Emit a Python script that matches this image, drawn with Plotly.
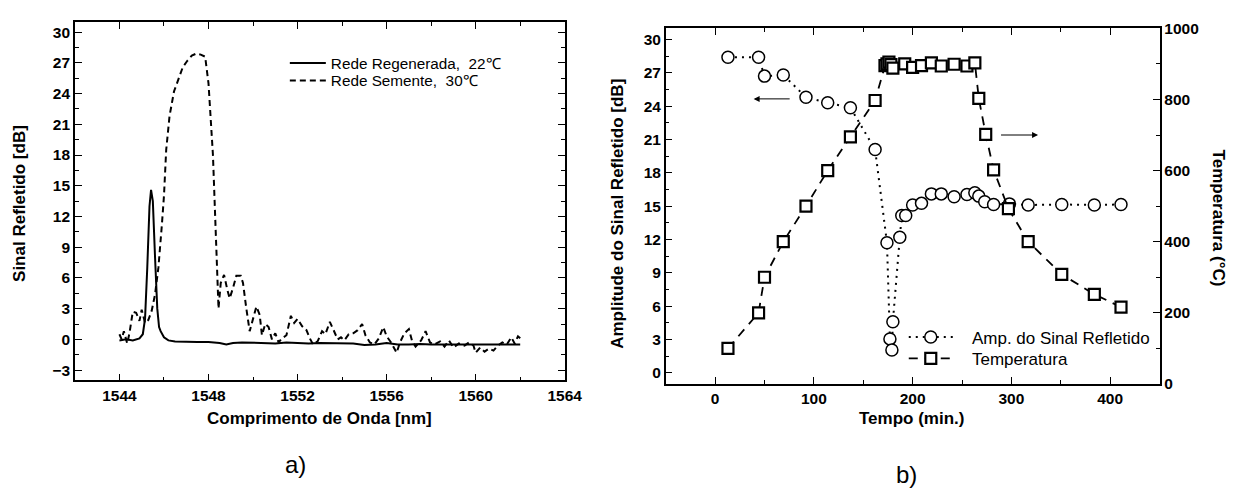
import plotly.graph_objects as go

# ---------------- data: panel a) ----------------
wl_regen = [1544.0, 1544.3, 1544.6, 1544.9, 1545.05, 1545.15, 1545.25, 1545.35, 1545.42, 1545.5,
            1545.6, 1545.7, 1545.78, 1545.85, 1546.0, 1546.2, 1546.5, 1547.0, 1547.5, 1548.0,
            1548.5, 1548.8, 1549.1, 1549.5, 1550.0, 1550.5, 1551.0, 1551.5, 1552.0, 1552.5,
            1553.0, 1553.5, 1554.0, 1554.5, 1555.0, 1555.5, 1556.0, 1556.5, 1557.0, 1557.5,
            1558.0, 1558.5, 1559.0, 1559.5, 1560.0, 1560.5, 1561.0, 1561.5, 1562.0]
sig_regen = [-0.1, 0.0, -0.1, 0.1, 0.5, 2.0, 7.0, 13.0, 14.6, 13.5,
             8.0, 3.0, 1.2, 0.8, 0.2, -0.1, -0.2, -0.25, -0.25, -0.25,
             -0.35, -0.5, -0.35, -0.3, -0.35, -0.4, -0.4, -0.3, -0.35, -0.4,
             -0.35, -0.35, -0.4, -0.4, -0.55, -0.5, -0.35, -0.5, -0.5, -0.45,
             -0.5, -0.5, -0.5, -0.55, -0.5, -0.5, -0.55, -0.5, -0.5]

wl_seed = [1544.00, 1544.10, 1544.20, 1544.35, 1544.45, 1544.60, 1544.75, 1544.90, 1545.00, 1545.15,
           1545.30, 1545.45, 1545.60, 1545.75, 1545.90, 1546.00, 1546.10, 1546.25, 1546.45, 1546.65,
           1546.85, 1547.05, 1547.25, 1547.45, 1547.65, 1547.85, 1548.00, 1548.10, 1548.20, 1548.30,
           1548.38, 1548.45, 1548.55, 1548.70, 1548.85, 1548.95, 1549.10, 1549.25, 1549.45, 1549.55,
           1549.70, 1549.85, 1549.95, 1550.15, 1550.30, 1550.40, 1550.55, 1550.70, 1550.85, 1551.00,
           1551.15, 1551.30, 1551.50, 1551.70, 1551.85, 1552.00, 1552.20, 1552.40, 1552.55, 1552.70,
           1552.90, 1553.10, 1553.25, 1553.45, 1553.60, 1553.80, 1553.95, 1554.10, 1554.30, 1554.50,
           1554.70, 1554.90, 1555.05, 1555.25, 1555.45, 1555.65, 1555.85, 1556.00, 1556.20, 1556.45,
           1556.60, 1556.80, 1557.00, 1557.15, 1557.30, 1557.55, 1557.75, 1557.95, 1558.15, 1558.40,
           1558.60, 1558.80, 1559.00, 1559.25, 1559.50, 1559.70, 1559.90, 1560.00, 1560.20, 1560.40,
           1560.60, 1560.80, 1561.00, 1561.20, 1561.40, 1561.60, 1561.75, 1561.90, 1562.00]
sig_seed = [0.5, 0.0, 0.8, -0.4, 0.6, 2.7, 2.6, 1.8, 2.9, 1.6,
            1.9, 2.8, 4.4, 7.0, 11.0, 14.0, 18.5, 21.8, 24.2, 25.3,
            26.6, 27.2, 27.7, 27.9, 27.8, 27.6, 25.0, 21.5, 18.0, 12.0,
            6.0, 3.0, 5.5, 6.3, 4.8, 4.0, 5.0, 6.2, 6.2, 5.5,
            3.0, 0.8, 1.6, 3.2, 2.4, 0.4, 1.5, 1.2, 0.0, 0.6,
            -0.3, 0.1, 0.4, 2.3, 1.6, 2.0, 1.3, 0.9, 0.1, -0.5,
            -0.2, 0.8, 0.5, 1.7, 1.0, 0.0, 0.2, -0.1, 0.5, 0.6,
            0.9, 1.5, 0.4, -0.3, -0.5, 0.1, 1.2, 0.3, -0.3, -1.3,
            -0.3, 0.6, 1.0, -0.2, -0.7, -0.1, 0.8, -0.3, -0.5, -0.2,
            -0.7, -0.1, -0.8, -0.4, -0.6, -0.3, -0.6, -1.3, -0.8, -1.2,
            -0.9, -1.1, -0.6, -0.3, -0.5, 0.2, -0.4, 0.3, 0.1]

xa_ticks = [1544, 1548, 1552, 1556, 1560, 1564]
ya_ticks = [-3, 0, 3, 6, 9, 12, 15, 18, 21, 24, 27, 30]

# ---------------- data: panel b) ----------------
t_amp = [13, 44, 50, 69, 92, 114, 137, 162, 174, 177, 179, 180, 187, 189, 193, 200, 209, 219, 229,
         242, 255, 263, 267, 273, 282, 298, 317, 351, 384, 411]
amp = [28.4, 28.4, 26.7, 26.8, 24.8, 24.3, 23.85, 20.1, 11.7, 3.05, 2.05, 4.6, 12.2, 14.15, 14.15,
       15.1, 15.25, 16.1, 16.1, 15.85, 16.05, 16.2, 15.9, 15.4, 15.15, 15.2, 15.1, 15.15, 15.1, 15.15]

t_temp = [13, 44, 50, 69, 92, 114, 137, 162, 172, 174, 176, 178, 180, 192, 200, 209, 219, 229,
          242, 255, 263, 267, 274, 282, 297, 317, 351, 384, 411]
temp = [100, 200, 300, 400, 500, 600, 695, 797, 895, 900, 905, 898, 888, 900, 890, 895, 903, 894,
        899, 894, 903, 803, 702, 602, 493, 400, 308, 252, 216]

xb_ticks = [0, 100, 200, 300, 400]
yb_ticks = [0, 3, 6, 9, 12, 15, 18, 21, 24, 27, 30]
yb2_ticks = [0, 200, 400, 600, 800, 1000]

FONT = "Liberation Sans, Arial, sans-serif"
W, H = 1247, 504
NB = "\u00a0"

fig = go.Figure()

fig.add_trace(go.Scatter(x=wl_regen, y=sig_regen, mode="lines", name="Rede Regenerada,  22℃",
                         line=dict(color="black", width=2), xaxis="x", yaxis="y", legend="legend"))
fig.add_trace(go.Scatter(x=wl_seed, y=sig_seed, mode="lines", name="Rede Semente,  30℃",
                         line=dict(color="black", width=2, dash="6px,4px"), xaxis="x", yaxis="y",
                         legend="legend2"))

fig.add_trace(go.Scatter(x=t_amp, y=amp, mode="lines+markers",
                         name=NB * 3 + "Amp. do Sinal Refletido",
                         line=dict(color="black", width=2, dash="2px,5px"),
                         marker=dict(symbol="circle", size=12, color="white",
                                     line=dict(color="black", width=1.5)),
                         xaxis="x2", yaxis="y2", legend="legend3"))
fig.add_trace(go.Scatter(x=t_temp, y=temp, mode="lines+markers", name=NB * 3 + "Temperatura",
                         line=dict(color="black", width=1.8, dash="9px,7px"),
                         marker=dict(symbol="square", size=11, color="white",
                                     line=dict(color="black", width=2.2)),
                         xaxis="x2", yaxis="y3", legend="legend4"))

tickfont = dict(family=FONT, size=15.5, color="black", weight="bold")
common = dict(showline=True, linecolor="black", linewidth=1.5, ticks="inside", ticklen=7,
              tickwidth=1.2, tickcolor="black", showgrid=False, zeroline=False, tickfont=tickfont)


def leg(x, y, size, iw):
    return dict(x=x / W, y=1 - y / H, xanchor="left", yanchor="middle", bgcolor="rgba(0,0,0,0)",
                font=dict(family=FONT, size=size, color="black"), tracegroupgap=0, itemwidth=iw,
                borderwidth=0)


fig.update_layout(
    width=W, height=H, margin=dict(l=0, r=0, t=0, b=0),
    paper_bgcolor="white", plot_bgcolor="white",
    font=dict(family=FONT, color="black"),
    xaxis=dict(domain=[76 / W, 573 / W], range=[1542, 1564], anchor="y", mirror="ticks",
               tickvals=xa_ticks, minor=dict(ticks="inside", ticklen=4, dtick=2, tickcolor="black"),
               **common),
    yaxis=dict(domain=[(H - 384.3) / H, (H - 13.3) / H], range=[-4, 31], anchor="x", mirror="ticks",
               tickvals=ya_ticks, minor=dict(ticks="inside", ticklen=4, dtick=1.5, tick0=0,
                                             tickcolor="black"),
               **common),
    xaxis2=dict(domain=[675.5 / W, 1176.5 / W], range=[-50, 450], anchor="y2", mirror="ticks",
                tickvals=xb_ticks, minor=dict(ticks="inside", ticklen=4, dtick=50, tickcolor="black"),
                **common),
    yaxis2=dict(domain=[(H - 388) / H, (H - 20) / H], range=[-1, 31], anchor="x2", mirror=False,
                tickvals=yb_ticks, minor=dict(ticks="inside", ticklen=4, dtick=1.5, tick0=0,
                                              tickcolor="black"),
                **common),
    yaxis3=dict(range=[0, 1000], anchor="x2", overlaying="y2", side="right",
                tickvals=yb2_ticks, minor=dict(ticks="inside", ticklen=4, dtick=100,
                                               tickcolor="black"),
                **common),
    legend=leg(289, 56, 15.3, 36),
    legend2=leg(289, 74, 15.3, 36),
    legend3=leg(917, 340, 17, 44),
    legend4=leg(917, 362, 17, 44),
    showlegend=True,
)

ann = []


def label(text, x, y, size=17, angle=0, bold=True):
    ann.append(dict(text=text, x=x / W, y=1 - y / H, xref="paper", yref="paper", showarrow=False,
                    textangle=angle, xanchor="center", yanchor="middle",
                    font=dict(family=FONT, size=size, color="black",
                              weight="bold" if bold else "normal")))


label("Comprimento de Onda [nm]", 324.5, 424)
label("Sinal Refletido [dB]", 19, 201, angle=-90)
label("Tempo (min.)", 925, 424)
label("Amplitude do Sinal Refletido [dB]", 627, 212, angle=-90)
label("Temperatura (°C)", 1236, 216, angle=90)
label("a)", 300, 471, size=24, bold=False)
label("b)", 920, 482, size=24, bold=False)

# arrows indicating axes
ann.append(dict(x=39, y=24.65, ax=77, ay=24.65, xref="x2", yref="y2", axref="x2", ayref="y2",
                text="", showarrow=True, arrowhead=2, arrowsize=1.2, arrowwidth=1, arrowcolor="black"))
ann.append(dict(x=327, y=700, ax=288, ay=700, xref="x2", yref="y3", axref="x2", ayref="y3",
                text="", showarrow=True, arrowhead=2, arrowsize=1.2, arrowwidth=1, arrowcolor="black"))

fig.update_layout(annotations=ann)
fig.write_html("out.html")
